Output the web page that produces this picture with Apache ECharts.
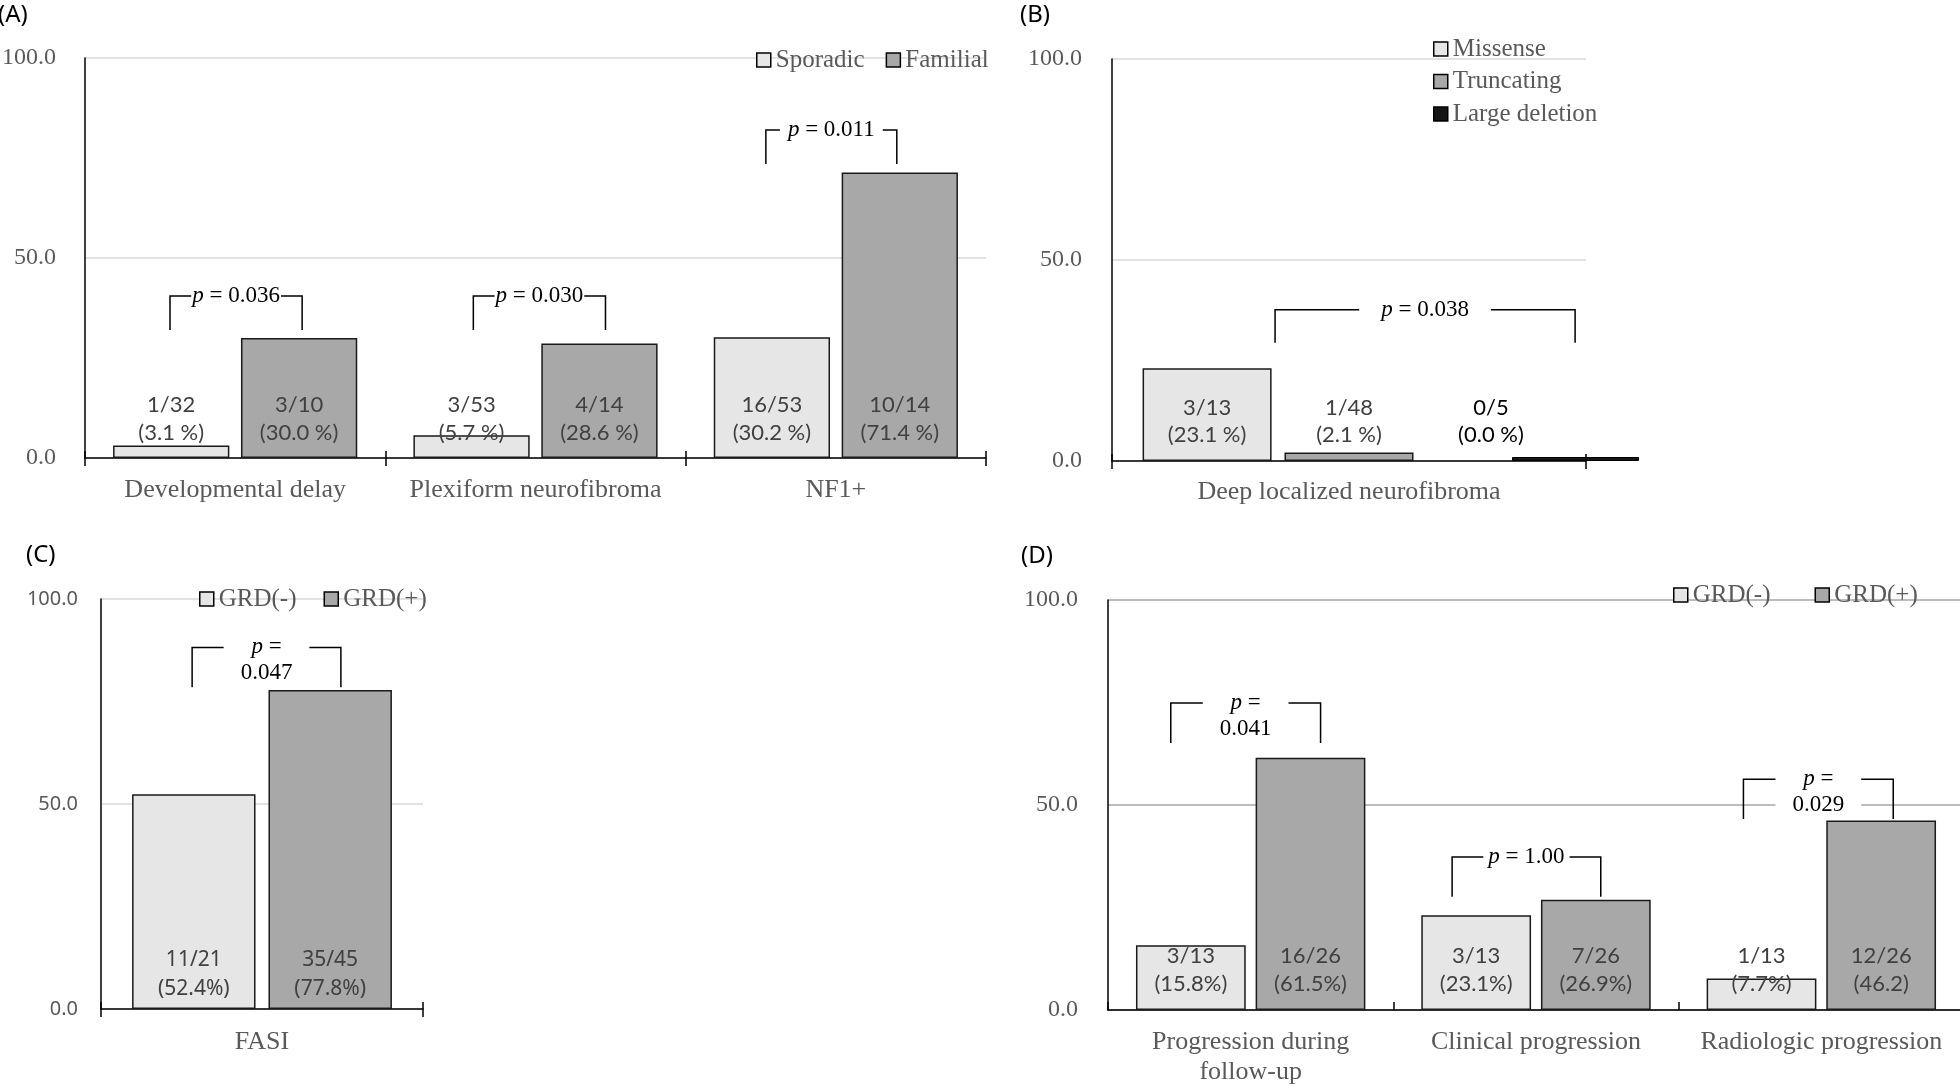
<!DOCTYPE html>
<html><head><meta charset="utf-8">
<script src="https://cdn.jsdelivr.net/npm/echarts@6/dist/echarts.min.js"></script>
<style>html,body{margin:0;padding:0;background:#fff}#c{width:1960px;height:1087px}</style>
</head><body><div id="c"></div>
<script>
// ---------------- DATA ----------------
const yTicks = [0, 50, 100];

// Panel A
const catsA = ['Developmental delay', 'Plexiform neurofibroma', 'NF1+'];
const sporadicA = [3.1, 5.7, 30.2];
const familialA = [30.0, 28.6, 71.4];
const sporadicLabelsA = ['1/32\n(3.1 %)', '3/53\n(5.7 %)', '16/53\n(30.2 %)'];
const familialLabelsA = ['3/10\n(30.0 %)', '4/14\n(28.6 %)', '10/14\n(71.4 %)'];
const pTextA = ['p = 0.036', 'p = 0.030', 'p = 0.011'];
const pTopA = [40.5, 40.5, 82];
const pLegA = [32, 32, 73.5];

// Panel B
const catsB = ['Deep localized neurofibroma'];
const missenseB = [23.1];
const truncatingB = [2.1];
const largeDelB = [0];
const missenseLabelsB = ['3/13\n(23.1 %)'];
const truncatingLabelsB = ['1/48\n(2.1 %)'];
const largeDelLabelsB = ['0/5\n(0.0 %)'];
const pTextB = ['p = 0.038'];
const pTopB = [37.6];
const pLegB = [29.4];

// Panel C
const catsC = ['FASI'];
const grdNegC = [52.4];
const grdPosC = [77.8];
const grdNegLabelsC = ['11/21\n(52.4%)'];
const grdPosLabelsC = ['35/45\n(77.8%)'];
const pTextC = ['p =\n0.047'];
const pTopC = [88.2];
const pLegC = [78.5];

// Panel D
const catsD = ['Progression during\nfollow-up', 'Clinical progression', 'Radiologic progression'];
const grdNegD = [15.8, 23.1, 7.7];
const grdPosD = [61.5, 26.9, 46.2];
const grdNegLabelsD = ['3/13\n(15.8%)', '3/13\n(23.1%)', '1/13\n(7.7%)'];
const grdPosLabelsD = ['16/26\n(61.5%)', '7/26\n(26.9%)', '12/26\n(46.2)'];
const pTextD = ['p =\n0.041', 'p = 1.00', 'p =\n0.029'];
const pTopD = [74.9, 37.3, 56.3];
const pLegD = [65.1, 27.6, 46.6];

// ---------------- STYLE / LAYOUT ----------------
const SERIF = '"Liberation Serif", "Times New Roman", serif';
const LIGHT = '#e6e6e6', MID = '#a8a8a8', DARK = '#161616', BORDER = '#1a1a1a';
// bracket leg positions as fraction of category band relative to its centre, text padding
const brA = [{l: -0.217, r: 0.223, pad: 1}, {l: -0.207, r: 0.233, pad: 1}, {l: -0.233, r: 0.203, pad: 8}];
const brB = [{l: -0.156, r: 0.477, pad: 22}];
const brC = [{l: -0.217, r: 0.245, pad: 17}];
const brD = [{l: -0.28, r: 0.245, pad: 17}, {l: -0.294, r: 0.227, pad: 5}, {l: -0.273, r: 0.252, pad: 17}];

const chart = echarts.init(document.getElementById('c'), null, {renderer: 'canvas'});

function grid(left, top, width, height) {
  return {left, top, width, height, containLabel: false, outerBoundsMode: 'none'};
}
function yAxis(gi, o) {
  return {
    type: 'value', gridIndex: gi, min: yTicks[0], max: yTicks[yTicks.length - 1], interval: yTicks[1] - yTicks[0],
    axisLine: {show: true, lineStyle: {color: '#000', width: 1.5}},
    axisTick: {show: false},
    axisLabel: {formatter: v => v.toFixed(1), color: '#595959', fontFamily: o.font, fontSize: o.size, margin: o.margin},
    splitLine: {show: true, lineStyle: {color: o.grid, width: 1.5}}
  };
}
function xAxis(gi, cats, o) {
  return {
    type: 'category', gridIndex: gi, data: cats, position: 'bottom',
    axisLine: {show: true, lineStyle: {color: '#000', width: 1.5}},
    axisTick: {show: true, inside: !!o.inside, length: 8, lineStyle: {color: '#000', width: 1.5}},
    axisLabel: {interval: 0, color: '#595959', fontFamily: SERIF, fontSize: 26, lineHeight: 30, margin: o.margin}
  };
}
// extra axis that only draws the inner half of the crossing ticks
function tickAxis(gi, cats) {
  return {
    type: 'category', gridIndex: gi, data: cats, position: 'bottom', offset: 0,
    axisLine: {show: false}, axisLabel: {show: false}, splitLine: {show: false},
    axisTick: {show: true, inside: true, length: 7, lineStyle: {color: '#000', width: 1.5}}
  };
}
function bars(name, gi, data, labels, color, o) {
  return {
    name, type: 'bar', xAxisIndex: gi, yAxisIndex: gi, data,
    barGap: o.gap, barCategoryGap: o.cat,
    itemStyle: {color, borderColor: BORDER, borderWidth: 1.5},
    label: {show: true, position: 'insideBottom', distance: o.dist,
      formatter: p => labels[p.dataIndex], fontFamily: o.font, fontSize: o.size,
      lineHeight: o.lh, color: o.color || '#404040'},
    emphasis: {disabled: true}, animation: false
  };
}
function brackets(gi, texts, tops, legs, st) {
  return {
    type: 'custom', xAxisIndex: gi, yAxisIndex: gi, z: 10, silent: true, clip: false, animation: false,
    data: texts.map((t, i) => [i, tops[i], legs[i]]),
    encode: {x: 0, y: 1},
    renderItem(params, api) {
      const i = params.dataIndex, s = st[i];
      const cat = api.value(0);
      const pt = api.coord([cat, api.value(1)]);
      const pl = api.coord([cat, api.value(2)]);
      const band = api.size([1, 0])[0];
      const xl = pt[0] + s.l * band, xr = pt[0] + s.r * band;
      const yT = pt[1], yL = pl[1];
      const txt = texts[i].replace(/^p/, '{i|p}');
      return {type: 'group', children: [
        {type: 'polyline', shape: {points: [[xl, yL], [xl, yT], [xr, yT], [xr, yL]]},
          style: {stroke: '#000', lineWidth: 1.5, fill: null}},
        {type: 'text', x: (xl + xr) / 2, y: yT - 13, z2: 5,
          style: {text: txt, align: 'center', verticalAlign: 'top', fontFamily: SERIF, fontSize: 23,
            lineHeight: 26, fill: '#000', backgroundColor: '#fff', padding: [0, s.pad],
            rich: {i: {fontStyle: 'italic', fontFamily: SERIF, fontSize: 23, lineHeight: 26, fill: '#000'}}}}
      ]};
    }
  };
}
function legend(o) {
  return Object.assign({
    icon: 'rect', itemWidth: 14, itemHeight: 14, padding: 0, selectedMode: false,
    itemStyle: {borderColor: '#000', borderWidth: 1.5},
    textStyle: {fontFamily: SERIF, fontSize: 25, lineHeight: 25, color: '#595959'}
  }, o);
}
function panelTitle(t, x, y) {
  return {type: 'text', x, y, style: {text: t, fontFamily: '"Noto Sans", sans-serif', fontSize: 24,
    fill: '#000', verticalAlign: 'middle', align: 'left'}};
}

const optsA = {gap: '10%', cat: '18.7%', dist: 11, font: 'Lato', size: 22, lh: 28};
const optsB = {gap: '10%', cat: '12.9%', dist: 12.5, font: 'Lato', size: 22, lh: 27};
const optsC = {gap: '10.5%', cat: '19.3%', dist: 5.5, font: '"Noto Sans"', size: 21, lh: 29};
const optsD = {gap: '9%', cat: '19.6%', dist: 12, font: 'Lato', size: 22, lh: 28};

const option = {
  backgroundColor: '#fff',
  animation: false,
  graphic: [panelTitle('(A)', -2, 15), panelTitle('(B)', 1020, 15), panelTitle('(C)', 26, 555), panelTitle('(D)', 1021, 556)],
  grid: [
    grid(85, 58, 901, 400),     // A
    grid(1112, 59, 474, 402),   // B
    grid(1512, 59, 127, 402),   // B - large deletion bar
    grid(101, 599, 322, 410),   // C
    grid(1108, 600, 856, 410)   // D
  ],
  xAxis: [
    xAxis(0, catsA, {margin: 17}),
    xAxis(1, catsB, {margin: 16}),
    {type: 'category', gridIndex: 2, data: catsB, show: false},
    xAxis(3, catsC, {margin: 18}),
    xAxis(4, catsD, {margin: 17, inside: true}),
    tickAxis(0, catsA),
    tickAxis(1, catsB),
    tickAxis(3, catsC)
  ],
  yAxis: [
    yAxis(0, {font: SERIF, size: 24, margin: 29, grid: '#d9d9d9'}),
    yAxis(1, {font: SERIF, size: 24, margin: 30, grid: '#d9d9d9'}),
    {type: 'value', gridIndex: 2, min: 0, max: 100, show: false, splitLine: {show: false}},
    yAxis(3, {font: '"Noto Sans", sans-serif', size: 20, margin: 23, grid: '#d9d9d9'}),
    yAxis(4, {font: SERIF, size: 24, margin: 30, grid: '#a6a6a6'})
  ],
  legend: [
    legend({left: 756, top: 47.5, itemGap: 21, data: ['Sporadic', 'Familial']}),
    legend({left: 1433, top: 36.5, orient: 'vertical', itemGap: 7.5, data: ['Missense', 'Truncating', 'Large deletion']}),
    legend({left: 199, top: 586.5, itemGap: 27, data: ['GRD(-)', 'GRD(+)']}),
    legend({left: 1673, top: 582.5, itemGap: 44, data: ['GRD(-) ', 'GRD(+) '], formatter: n => n.trim()})
  ],
  series: [
    bars('Sporadic', 0, sporadicA, sporadicLabelsA, LIGHT, optsA),
    bars('Familial', 0, familialA, familialLabelsA, MID, optsA),
    brackets(0, pTextA, pTopA, pLegA, brA),

    bars('Missense', 1, missenseB, missenseLabelsB, LIGHT, optsB),
    bars('Truncating', 1, truncatingB, truncatingLabelsB, MID, optsB),
    Object.assign(bars('Large deletion label', 1, largeDelB, largeDelLabelsB, 'rgba(0,0,0,0)', Object.assign({}, optsB, {color: '#000'})),
      {itemStyle: {color: 'rgba(0,0,0,0)', borderWidth: 0}}),
    Object.assign(bars('Large deletion', 2, largeDelB, [''], DARK, optsB),
      {barWidth: '100%', barMinHeight: 4, label: {show: false}, itemStyle: {color: DARK, borderColor: '#000', borderWidth: 1}}),
    brackets(1, pTextB, pTopB, pLegB, brB),

    bars('GRD(-)', 3, grdNegC, grdNegLabelsC, LIGHT, optsC),
    bars('GRD(+)', 3, grdPosC, grdPosLabelsC, MID, optsC),
    brackets(3, pTextC, pTopC, pLegC, brC),

    bars('GRD(-) ', 4, grdNegD, grdNegLabelsD, LIGHT, optsD),
    bars('GRD(+) ', 4, grdPosD, grdPosLabelsD, MID, optsD),
    brackets(4, pTextD, pTopD, pLegD, brD)
  ]
};
chart.setOption(option);
</script></body></html>
